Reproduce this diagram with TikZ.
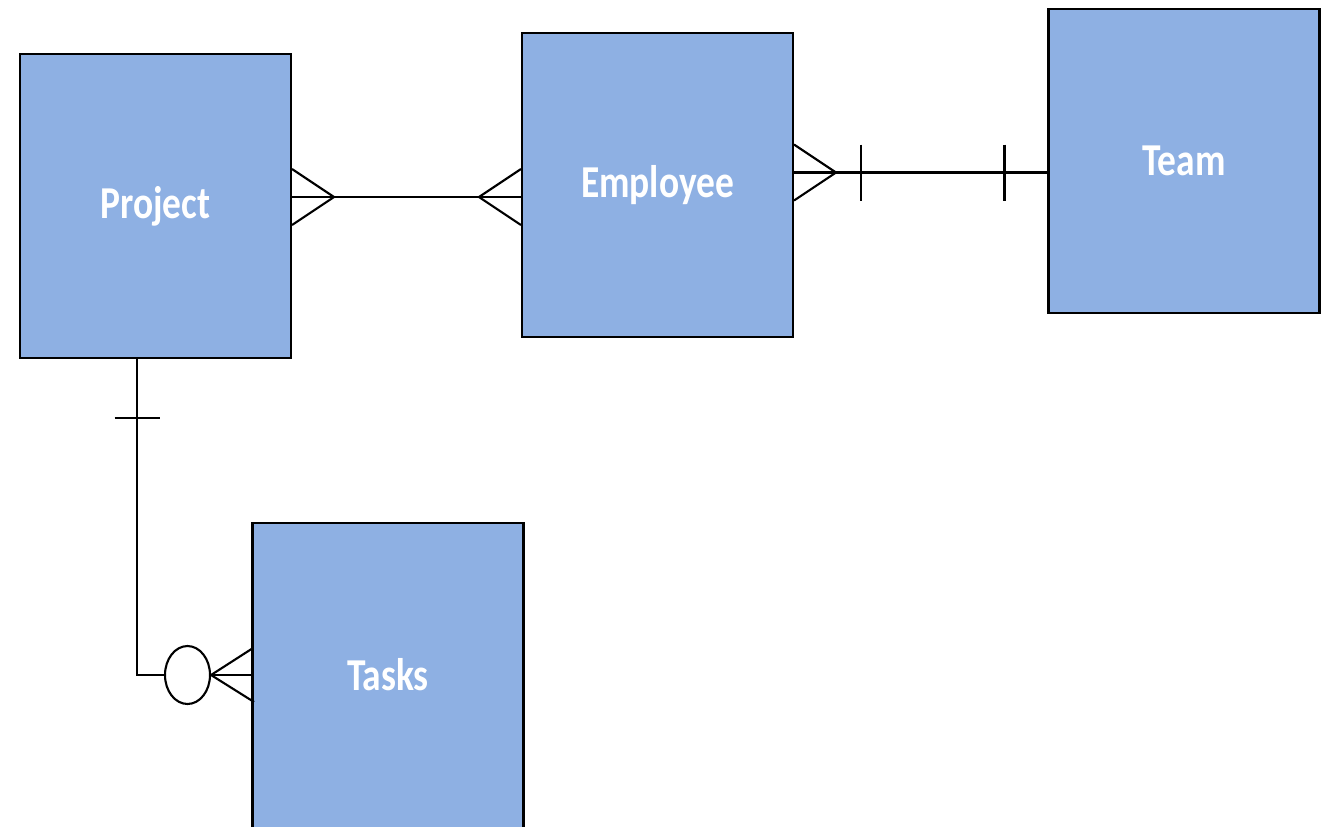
\documentclass[tikz,border=0pt]{standalone}
\usepackage{fontspec}
\usetikzlibrary{shapes.geometric}
\newfontfamily\entityfont{Carlito}[FakeStretch=0.82]
\definecolor{entityblue}{RGB}{142,176,227}

\begin{document}
\begin{tikzpicture}[x=0.02cm,y=-0.02cm,
    entity/.style={draw=black,line width=1.2pt,fill=entityblue,
        minimum width=5.42cm,minimum height=6.08cm,
        text=white,font=\entityfont\bfseries\fontsize{26}{30}\selectfont},
    link/.style={line width=1.2pt,black}]
    %% ER diagram

    % Parameters
    \def\foot{42}
    \def\spread{28}
    \def\tick{28}

    \useasboundingbox (0,0) rectangle (1335,826);

    % Entities
    \node[entity] (project) at (155.5,206) {Project};
    \node[entity] (employee) at (657.5,185) {Employee};
    \node[entity] (team) at (1184,161) {Team};
    \node[entity,minimum height=6.3cm] (tasks) at (388,680.5) {};
    \node[text=white,font=\entityfont\bfseries\fontsize{26}{30}\selectfont]
        at (388,675) {Tasks};

    % Project -- Employee (many to many)
    \coordinate (pe) at (project.east |- 0,197);
    \coordinate (ep) at (employee.west |- 0,197);
    \draw[link] (pe) -- (ep);
    \draw[link] (pe) ++(0,-\spread) -- ++(\foot,\spread) -- ++(-\foot,\spread);
    \draw[link] (ep) ++(0,-\spread) -- ++(-\foot,\spread) -- ++(\foot,\spread);

    % Employee -- Team (many to one)
    \coordinate (et) at (employee.east |- 0,172.5);
    \coordinate (te) at (team.west |- 0,172.5);
    \draw[link] (et) -- (te);
    \draw[link] (et) ++(0,-\spread) -- ++(\foot,\spread) -- ++(-\foot,\spread);
    \draw[link] (et) ++(67,-\tick) -- ++(0,{2*\tick});
    \draw[link] (te) ++(-43,-\tick) -- ++(0,{2*\tick});

    % Project -- Tasks (one to zero or many)
    \coordinate (pt) at (137,0 |- project.south);
    \coordinate (corner) at (137,675);
    \coordinate (tp) at (tasks.west |- corner);
    \node[draw,link,ellipse,inner sep=0pt,minimum width=0.9cm,minimum height=1.16cm]
        (zero) at (187.5,675) {};
    \draw[link] (pt) -- (corner) -- (zero.west);
    \draw[link] (zero.east) -- (tp);
    \draw[link] (tp) ++(0,-26) -- (zero.east) -- ++(43,27);
    \draw[link] (pt) ++(-22.5,59) -- ++(45,0);

\end{tikzpicture}
\end{document}
